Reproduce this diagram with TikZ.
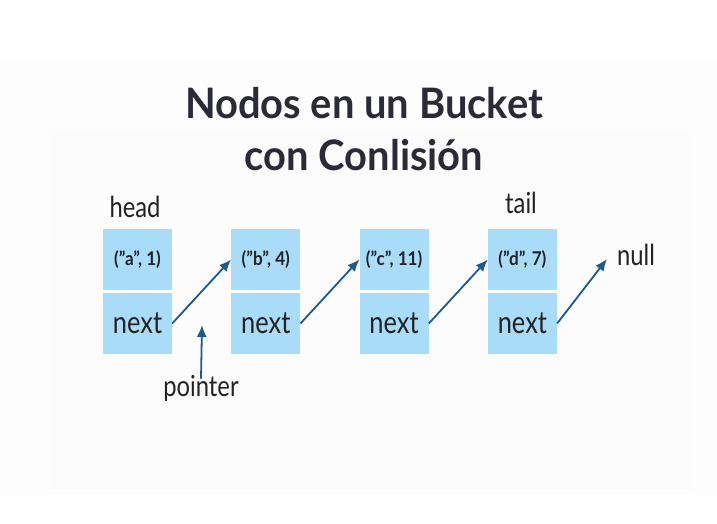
\documentclass[tikz,border=0pt]{standalone}
\usepackage{fontspec}
\setmainfont{Lato}[FakeStretch=0.82]
\newfontfamily\titlefont{Lato}[FakeStretch=0.95]
\newfontfamily\valfont{Lato}[FakeStretch=0.9]
\usetikzlibrary{arrows.meta}
\definecolor{boxblue}{HTML}{A8DCF9}
\definecolor{arrowblue}{HTML}{1D5B8C}
\definecolor{titlecol}{HTML}{2B2B38}
\definecolor{textcol}{HTML}{222222}
\tikzset{
  cell/.style={fill=boxblue, draw=none, minimum width=69pt, minimum height=61pt, inner sep=0pt, text=textcol},
  valbox/.style={cell, font=\valfont\fontsize{19}{21}\selectfont\bfseries},
  nextbox/.style={cell, font=\fontsize{31}{34}\selectfont},
  lbl/.style={text=textcol, font=\fontsize{29}{32}\selectfont, inner sep=0pt},
  ptr/.style={draw=arrowblue, line width=1.8pt, -{Latex[length=12pt,width=10pt]}},
  ttl/.style={text=titlecol, font=\titlefont\fontsize{42}{46}\selectfont\bfseries, inner sep=0pt, anchor=base}
}
\begin{document}
\begin{tikzpicture}[x=1pt,y=-1pt]
\useasboundingbox (0,0) rectangle (717,524);
\fill[white] (0,0) rectangle (717,524);
\fill[black!0.6] (0,60) rectangle (717,495);
\fill[black!1.2] (50,132) rectangle (690,490);
\node[ttl] (t1) at (364,118) {Nodos en un Bucket};
\node[ttl] (t2) at (364,170) {con Conlisión};
\foreach \i/\x/\v in {1/137.5/(”a”{,} 1), 2/265.8/(”b”{,} 4), 3/394.1/(”c”{,} 11), 4/522.4/(”d”{,} 7)}{
  \node[valbox] (v\i) at (\x,259.5) {\v};
  \node[nextbox] (n\i) at (\x,323.5) {next};
}
\node[lbl] (head) at (135,207) {head};
\node[lbl] (tail) at (521,203) {tail};
\node[lbl] (null) at (636,255) {null};
\node[lbl] (pointer) at (201,388) {pointer};
\coordinate (nullend) at (607,259);
\coordinate (ptrend) at (202,325);
\draw[ptr] (n1.east) -- (v2.west);
\draw[ptr] (n2.east) -- (v3.west);
\draw[ptr] (n3.east) -- (v4.west);
\draw[ptr] (n4.east) -- (nullend);
\draw[ptr] ([yshift=-4pt]pointer.north) -- (ptrend);
\end{tikzpicture}
\end{document}
